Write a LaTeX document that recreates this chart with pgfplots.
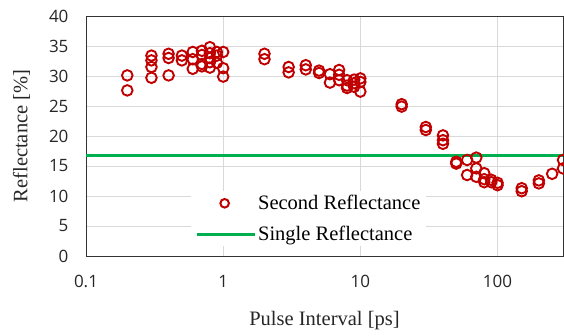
\documentclass[border=0pt]{standalone}
\usepackage{pgfplots}
\pgfplotsset{compat=1.18}
\usepackage{fontspec}
\setmainfont{Liberation Serif}
\newfontfamily\tickfont{Open Sans}
\definecolor{dred}{HTML}{C00000}
\definecolor{lgreen}{HTML}{00B050}
\begin{document}
\begin{tikzpicture}
\path[use as bounding box] (-86pt,-80pt) rectangle (478pt,256pt);
\begin{axis}[
  at={(0,0)}, anchor=south west,
  scale only axis, width=477pt, height=240pt,
  xmode=log, xmin=0.1, xmax=300,
  ymin=0, ymax=40, ytick={0,5,...,40},
  xtick={0.1,1,10,100}, xticklabels={0.1,1,10,100},
  minor xtick={},
  grid=major, major grid style={gray!30, line width=0.8pt},
  major tick length=0pt, minor tick length=0pt,
  axis line style={black!80, line width=0.9pt},
  ticklabel style={font=\tickfont\fontsize{17}{17}\selectfont, text=black!85},
  yticklabel style={xshift=-14pt},
  xticklabel style={yshift=-16pt},
  /pgf/number format/assume math mode=true,
  xlabel={Pulse Interval [ps]}, ylabel={Reflectance [\%]},
  label style={font=\fontsize{20.5}{20.5}\selectfont, text=black!85},
  xlabel style={yshift=-16pt},
  ylabel style={yshift=12pt},
  legend style={at={(0.22,0.04)}, anchor=south west, draw=none, fill=white,
    font=\fontsize{20.5}{20.5}\selectfont, row sep=11pt, inner xsep=4pt},
  legend cell align=left,
  legend image code/.code={\draw[#1] (0pt,0pt) -- (58pt,0pt);},
]
\addplot[lgreen, line width=3pt, forget plot] coordinates {(0.1,16.8)(300,16.8)};
\addplot[only marks, mark=o, mark size=5.3pt, mark options={line width=1.9pt, draw=dred}, dred, forget plot] coordinates {
(0.2,30.1)(0.2,27.6)
(0.3,33.4)(0.3,32.6)(0.3,31.5)(0.3,29.7)
(0.4,33.7)(0.4,33.0)(0.4,30.1)
(0.5,33.4)(0.5,32.6)
(0.6,34.0)(0.6,32.8)(0.6,31.2)
(0.7,34.2)(0.7,33.5)(0.7,32.0)(0.7,31.6)
(0.8,34.8)(0.8,33.8)(0.8,33.0)(0.8,32.3)(0.8,31.4)
(0.9,34.0)(0.9,33.4)(0.9,32.2)
(1.0,34.0)(1.0,31.3)(1.0,29.9)
(2,33.7)(2,32.8)
(3,31.5)(3,30.6)
(4,31.8)(4,31.1)
(5,30.9)(5,30.5)
(6,30.3)(6,28.9)
(7,31.0)(7,30.2)(7,29.3)
(8,29.3)(8,28.4)(8,28.0)
(9,28.8)(9,29.4)(9,28.2)
(10,29.6)(10,29.0)(10,27.4)
(20,25.3)(20,24.9)
(30,21.5)(30,21.0)
(40,20.1)(40,19.3)(40,18.7)
(50,15.7)(50,15.4)
(60,16.0)(60,13.5)
(70,16.4)(70,14.6)(70,13.2)
(80,13.8)(80,12.8)(80,12.3)
(90,12.7)(90,12.3)
(100,12.2)(100,11.8)
(150,11.3)(150,10.8)
(200,12.6)(200,12.1)
(250,13.7)
(300,16.0)(300,14.6)
};
\addlegendimage{legend image code/.code={\draw[dred, line width=2pt] (28pt,0pt) circle (4.3pt);}}
\addlegendimage{lgreen, line width=3pt}
\legend{Second Reflectance,Single Reflectance}
\end{axis}
\end{tikzpicture}
\end{document}
